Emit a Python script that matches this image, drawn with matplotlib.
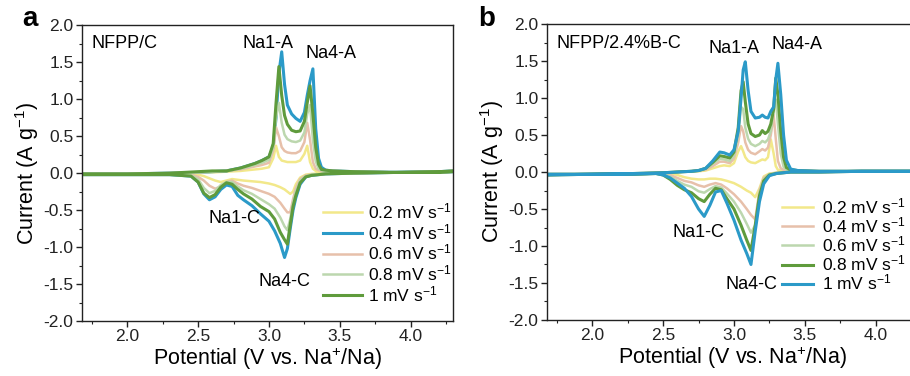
"""Cyclic voltammetry curves at several scan rates for NFPP/C and NFPP/2.4%B-C."""

import matplotlib
matplotlib.use("Agg")
import matplotlib.pyplot as plt
import numpy as np
from matplotlib.ticker import FormatStrFormatter, MultipleLocator

plt.rcParams["font.family"] = ["Liberation Sans", "DejaVu Sans"]
plt.rcParams["mathtext.fontset"] = "custom"
plt.rcParams["mathtext.rm"] = "Liberation Sans"
plt.rcParams["mathtext.it"] = "Liberation Sans:italic"
plt.rcParams["axes.unicode_minus"] = False

RATE_LABELS = ["0.2", "0.4", "0.6", "0.8", "1"]

YELLOW = "#f2e88a"
BLUE = "#2b9ac8"
PEACH = "#e7c0aa"
LIGHT_GREEN = "#bcd7ae"
GREEN = "#5f9b3c"

# ---- panel a: NFPP/C ------------------------------------------------------
a_anodic_v = [1.68, 2.0, 2.3, 2.5, 2.6, 2.7, 2.8, 2.9, 2.95, 3.0, 3.03, 3.05, 3.07, 3.09,
              3.11, 3.13, 3.16, 3.19, 3.22, 3.25, 3.27, 3.29, 3.31, 3.33, 3.35, 3.37,
              3.40, 3.45, 3.6, 3.9, 4.2, 4.3]
a_anodic_i = {
    "0.2": [-0.01, -0.01, 0.0, 0.01, 0.01, 0.02, 0.03, 0.05, 0.06, 0.08, 0.20, 0.37, 0.22, 0.17,
            0.16, 0.15, 0.15, 0.15, 0.17, 0.26, 0.37, 0.15, 0.06, 0.03, 0.02, 0.02,
            0.02, 0.02, 0.02, 0.01, 0.02, 0.03],
    "0.4": [-0.01, -0.01, 0.0, 0.01, 0.02, 0.03, 0.07, 0.13, 0.17, 0.22, 0.35, 0.75, 1.35, 1.64,
            1.20, 0.92, 0.80, 0.74, 0.70, 0.82, 1.05, 1.25, 1.41, 0.60, 0.20, 0.08,
            0.04, 0.03, 0.02, 0.01, 0.02, 0.03],
    "0.6": [-0.01, -0.01, 0.0, 0.01, 0.02, 0.03, 0.05, 0.09, 0.11, 0.14, 0.30, 0.62, 0.50, 0.35,
            0.30, 0.28, 0.27, 0.27, 0.30, 0.42, 0.68, 0.45, 0.15, 0.06, 0.04, 0.03,
            0.03, 0.03, 0.02, 0.01, 0.02, 0.03],
    "0.8": [-0.01, -0.01, 0.0, 0.01, 0.02, 0.03, 0.06, 0.11, 0.14, 0.18, 0.35, 0.75, 0.95, 0.68,
            0.52, 0.46, 0.43, 0.42, 0.44, 0.55, 0.80, 0.92, 0.45, 0.16, 0.06, 0.04,
            0.03, 0.03, 0.02, 0.01, 0.02, 0.03],
    "1": [-0.01, -0.01, 0.0, 0.02, 0.03, 0.03, 0.07, 0.13, 0.17, 0.22, 0.40, 0.95, 1.44, 1.05,
          0.78, 0.66, 0.58, 0.56, 0.57, 0.70, 0.95, 1.18, 0.80, 0.35, 0.12, 0.05,
          0.04, 0.03, 0.02, 0.01, 0.02, 0.03],
}
a_cathodic_v = [1.68, 2.0, 2.3, 2.45, 2.5, 2.54, 2.58, 2.62, 2.66, 2.70, 2.74, 2.78, 2.82,
                2.88, 2.94, 3.0, 3.04, 3.08, 3.11, 3.13, 3.15, 3.17, 3.19, 3.22, 3.26,
                3.3, 3.4, 3.6, 3.9, 4.2, 4.3]
a_cathodic_i = {
    "0.2": [-0.02, -0.02, -0.02, -0.02, -0.02, -0.04, -0.07, -0.10, -0.12, -0.10, -0.08, -0.09,
            -0.10, -0.11, -0.12, -0.14, -0.16, -0.19, -0.22, -0.25, -0.28, -0.25, -0.15,
            -0.06, -0.02, -0.01, 0.0, 0.0, 0.01, 0.01, 0.02],
    "0.4": [-0.02, -0.02, -0.02, -0.04, -0.12, -0.28, -0.36, -0.32, -0.22, -0.16, -0.18, -0.30,
            -0.36, -0.44, -0.55, -0.65, -0.78, -0.95, -1.14, -1.02, -0.75, -0.50, -0.33,
            -0.15, -0.05, -0.03, -0.01, 0.0, 0.01, 0.01, 0.02],
    "0.6": [-0.02, -0.02, -0.02, -0.02, -0.05, -0.10, -0.17, -0.21, -0.18, -0.12, -0.10, -0.14,
            -0.17, -0.20, -0.24, -0.28, -0.32, -0.40, -0.48, -0.53, -0.53, -0.35, -0.20,
            -0.08, -0.03, -0.02, -0.01, 0.0, 0.01, 0.01, 0.02],
    "0.8": [-0.02, -0.02, -0.02, -0.03, -0.08, -0.20, -0.27, -0.24, -0.16, -0.12, -0.12, -0.18,
            -0.23, -0.28, -0.35, -0.42, -0.48, -0.60, -0.72, -0.77, -0.62, -0.40, -0.25,
            -0.10, -0.04, -0.02, -0.01, 0.0, 0.01, 0.01, 0.02],
    "1": [-0.02, -0.02, -0.02, -0.04, -0.12, -0.27, -0.33, -0.29, -0.19, -0.13, -0.15, -0.22,
          -0.28, -0.35, -0.45, -0.52, -0.62, -0.80, -0.90, -0.96, -0.70, -0.45, -0.30,
          -0.13, -0.05, -0.03, -0.01, 0.0, 0.01, 0.01, 0.02],
}

# ---- panel b: NFPP/2.4%B-C ------------------------------------------------
b_anodic_v = [1.68, 2.0, 2.3, 2.5, 2.6, 2.7, 2.75, 2.8, 2.85, 2.9, 2.93, 2.97, 3.0, 3.03,
              3.05, 3.065, 3.08, 3.10, 3.12, 3.15, 3.18, 3.20, 3.22, 3.24, 3.26, 3.28,
              3.295, 3.31, 3.33, 3.35, 3.37, 3.40, 3.45, 3.6, 3.9, 4.3]
b_anodic_i = {
    "0.2": [-0.03, -0.03, -0.02, -0.01, 0.0, 0.01, 0.01, 0.02, 0.05, 0.08, 0.09, 0.08, 0.12, 0.28,
            0.35, 0.28, 0.20, 0.15, 0.13, 0.12, 0.15, 0.17, 0.16, 0.20, 0.44, 0.25,
            0.08, 0.03, 0.02, 0.01, 0.01, 0.01, 0.01, 0.01, 0.01, 0.01],
    "0.4": [-0.03, -0.03, -0.02, -0.01, 0.0, 0.01, 0.02, 0.03, 0.08, 0.14, 0.14, 0.12, 0.18, 0.40,
            0.62, 0.55, 0.40, 0.30, 0.26, 0.24, 0.28, 0.31, 0.29, 0.33, 0.50, 0.77,
            0.45, 0.15, 0.05, 0.03, 0.02, 0.01, 0.01, 0.01, 0.01, 0.01],
    "0.6": [-0.03, -0.03, -0.02, -0.01, 0.0, 0.01, 0.02, 0.04, 0.11, 0.18, 0.17, 0.15, 0.22, 0.50,
            0.88, 0.85, 0.60, 0.45, 0.38, 0.35, 0.38, 0.42, 0.40, 0.44, 0.55, 0.85,
            0.98, 0.65, 0.25, 0.07, 0.03, 0.02, 0.01, 0.01, 0.01, 0.01],
    "0.8": [-0.03, -0.03, -0.02, -0.01, 0.0, 0.01, 0.02, 0.05, 0.13, 0.22, 0.21, 0.19, 0.27, 0.60,
            1.10, 1.22, 0.95, 0.65, 0.52, 0.48, 0.50, 0.56, 0.52, 0.55, 0.65, 0.85,
            1.27, 1.05, 0.55, 0.20, 0.06, 0.03, 0.02, 0.01, 0.01, 0.01],
    "1": [-0.03, -0.03, -0.02, -0.01, 0.0, 0.01, 0.02, 0.05, 0.15, 0.27, 0.26, 0.23, 0.30, 0.55,
          1.00, 1.38, 1.49, 1.10, 0.82, 0.73, 0.74, 0.77, 0.74, 0.73, 0.82, 0.88,
          1.25, 1.47, 1.05, 0.50, 0.16, 0.04, 0.02, 0.01, 0.01, 0.01],
}
b_cathodic_v = [1.68, 2.0, 2.3, 2.45, 2.5, 2.55, 2.6, 2.65, 2.7, 2.75, 2.79, 2.83, 2.87,
                2.91, 2.95, 3.0, 3.05, 3.09, 3.12, 3.15, 3.18, 3.21, 3.25, 3.3, 3.4,
                3.6, 3.9, 4.2, 4.3]
b_cathodic_i = {
    "0.2": [-0.04, -0.03, -0.03, -0.02, -0.02, -0.02, -0.04, -0.07, -0.09, -0.10, -0.10, -0.09,
            -0.09, -0.10, -0.12, -0.15, -0.20, -0.25, -0.28, -0.34, -0.22, -0.06, -0.02,
            -0.01, 0.0, 0.0, 0.01, 0.01, 0.01],
    "0.4": [-0.04, -0.03, -0.03, -0.02, -0.02, -0.04, -0.08, -0.12, -0.14, -0.18, -0.20, -0.17,
            -0.15, -0.17, -0.22, -0.30, -0.40, -0.50, -0.58, -0.64, -0.25, -0.08, -0.03,
            -0.01, 0.0, 0.0, 0.01, 0.01, 0.01],
    "0.6": [-0.04, -0.03, -0.03, -0.02, -0.03, -0.06, -0.12, -0.17, -0.20, -0.26, -0.28, -0.23,
            -0.19, -0.21, -0.29, -0.40, -0.55, -0.70, -0.82, -0.72, -0.28, -0.10, -0.03,
            -0.01, 0.0, 0.0, 0.01, 0.01, 0.01],
    "0.8": [-0.04, -0.03, -0.03, -0.02, -0.04, -0.10, -0.18, -0.24, -0.28, -0.36, -0.40, -0.30,
            -0.22, -0.24, -0.36, -0.50, -0.72, -0.92, -1.06, -0.72, -0.32, -0.12, -0.04,
            -0.02, 0.0, 0.0, 0.01, 0.01, 0.01],
    "1": [-0.04, -0.03, -0.03, -0.02, -0.04, -0.08, -0.15, -0.22, -0.33, -0.50, -0.60, -0.45,
          -0.27, -0.25, -0.42, -0.65, -0.92, -1.10, -1.25, -0.80, -0.40, -0.16, -0.05,
          -0.02, 0.0, 0.0, 0.01, 0.01, 0.01],
}

a_colors = [YELLOW, BLUE, PEACH, LIGHT_GREEN, GREEN]
b_colors = [YELLOW, PEACH, LIGHT_GREEN, GREEN, BLUE]
a_widths = [1.8, 2.2, 1.8, 1.8, 2.2]
b_widths = [1.8, 1.8, 1.8, 2.2, 2.2]


def draw_panel(ax, anodic_v, anodic_i, cathodic_v, cathodic_i, colors, widths):
    for rate, color, lw in zip(RATE_LABELS, colors, widths):
        v = np.concatenate([anodic_v, cathodic_v[::-1]])
        i = np.concatenate([anodic_i[rate], cathodic_i[rate][::-1]])
        ax.plot(v, i, color=color, lw=lw, label=f"{rate} mV s$^{{-1}}$",
                solid_joinstyle="round")

    ax.set_xlim(1.68, 4.3)
    ax.set_ylim(-2.0, 2.0)
    ax.xaxis.set_major_locator(MultipleLocator(0.5))
    ax.xaxis.set_minor_locator(MultipleLocator(0.25))
    ax.yaxis.set_major_locator(MultipleLocator(0.5))
    ax.yaxis.set_minor_locator(MultipleLocator(0.25))
    ax.xaxis.set_major_formatter(FormatStrFormatter("%.1f"))
    ax.yaxis.set_major_formatter(FormatStrFormatter("%.1f"))
    ax.tick_params(which="major", direction="out", length=4, width=1, labelsize=12.5,
                   pad=2, colors="#222222")
    ax.tick_params(which="minor", direction="out", length=2.5, width=0.8, colors="#222222")
    for spine in ax.spines.values():
        spine.set_linewidth(1.0)
        spine.set_color("#222222")
    ax.set_xlabel("Potential (V vs. Na$^{+}$/Na)", fontsize=15.5, labelpad=1)
    ax.set_ylabel("Current (A g$^{-1}$)", fontsize=15.5, labelpad=2)


fig = plt.figure(figsize=(9.1, 3.76), dpi=100)
ax_a = fig.add_axes([0.090, 0.146, 0.408, 0.787])
ax_b = fig.add_axes([0.601, 0.149, 0.408, 0.787])

draw_panel(ax_a, a_anodic_v, a_anodic_i, a_cathodic_v, a_cathodic_i, a_colors, a_widths)
draw_panel(ax_b, b_anodic_v, b_anodic_i, b_cathodic_v, b_cathodic_i, b_colors, b_widths)

text_kw = dict(fontsize=13, va="center")
ax_a.text(1.745, 1.757, "NFPP/C", ha="left", **text_kw)
ax_a.text(2.995, 1.757, "Na1-A", ha="center", **text_kw)
ax_a.text(3.437, 1.62, "Na4-A", ha="center", **text_kw)
ax_a.text(2.756, -0.61, "Na1-C", ha="center", **text_kw)
ax_a.text(3.11, -1.465, "Na4-C", ha="center", **text_kw)

ax_b.text(1.746, 1.74, "NFPP/2.4%B-C", ha="left", **text_kw)
ax_b.text(3.0, 1.675, "Na1-A", ha="center", **text_kw)
ax_b.text(3.444, 1.72, "Na4-A", ha="center", **text_kw)
ax_b.text(2.75, -0.82, "Na1-C", ha="center", **text_kw)
ax_b.text(3.124, -1.52, "Na4-C", ha="center", **text_kw)

legend_kw = dict(loc="upper left", frameon=False, fontsize=12.5, borderpad=0,
                 borderaxespad=0)
ax_a.legend(bbox_to_anchor=(0.65, 0.405), labelspacing=0.05, handlelength=2.25,
            handletextpad=0.3, **legend_kw)
ax_b.legend(bbox_to_anchor=(0.633, 0.417), labelspacing=-0.05, handlelength=1.8,
            handletextpad=0.5, **legend_kw)

fig.text(0.024, 0.95, "a", fontsize=20, fontweight="bold", va="center")
fig.text(0.525, 0.95, "b", fontsize=20, fontweight="bold", va="center")

fig.savefig("out.png", dpi=100)
